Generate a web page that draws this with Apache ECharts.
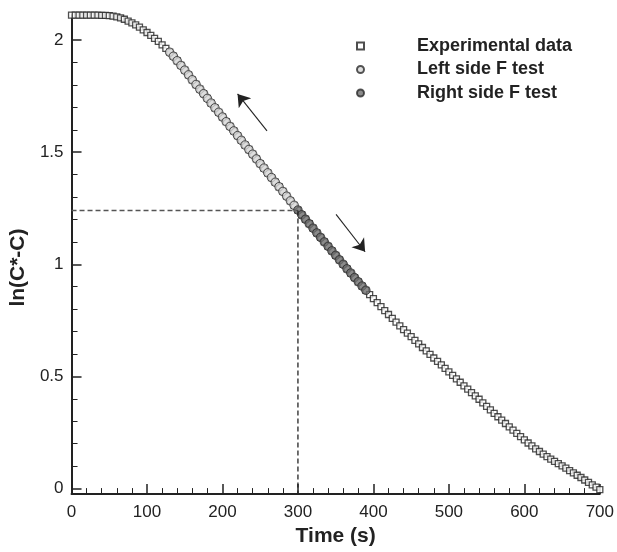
<!DOCTYPE html>
<html>
<head>
<meta charset="utf-8">
<script src="https://cdn.jsdelivr.net/npm/echarts@6/dist/echarts.min.js"></script>
<style>
  html, body { margin: 0; padding: 0; background: #fff; }
  #chart { width: 617px; height: 552px; }
</style>
</head>
<body>
<div id="chart"></div>
<script>
// sampling times (s)
const expTime = [
  0, 5, 10, 15, 20, 25, 30, 35, 40, 45, 50, 55, 60, 65, 70, 75, 80, 85, 90, 95,
  100, 105, 110, 115, 120, 125, 130, 135, 140, 145, 150, 155, 160, 165, 170, 175, 180, 185, 190, 195,
  200, 205, 210, 215, 220, 225, 230, 235, 240, 245, 250, 255, 260, 265, 270, 275, 280, 285, 290, 295,
  300, 305, 310, 315, 320, 325, 330, 335, 340, 345, 350, 355, 360, 365, 370, 375, 380, 385, 390, 395,
  400, 405, 410, 415, 420, 425, 430, 435, 440, 445, 450, 455, 460, 465, 470, 475, 480, 485, 490, 495,
  500, 505, 510, 515, 520, 525, 530, 535, 540, 545, 550, 555, 560, 565, 570, 575, 580, 585, 590, 595,
  600, 605, 610, 615, 620, 625, 630, 635, 640, 645, 650, 655, 660, 665, 670, 675, 680, 685, 690, 695,
  700
];
// ln(C*-C)
const expValue = [
  2.111, 2.111, 2.111, 2.111, 2.111, 2.111, 2.111, 2.111, 2.110, 2.110,
  2.109, 2.107, 2.104, 2.099, 2.093, 2.085, 2.077, 2.068, 2.058, 2.046,
  2.034, 2.021, 2.008, 1.994, 1.979, 1.963, 1.946, 1.928, 1.908, 1.887,
  1.866, 1.845, 1.823, 1.802, 1.781, 1.761, 1.740, 1.719, 1.698, 1.678,
  1.657, 1.636, 1.615, 1.595, 1.574, 1.553, 1.532, 1.512, 1.491, 1.470,
  1.449, 1.429, 1.408, 1.387, 1.366, 1.346, 1.325, 1.304, 1.283, 1.263,
  1.242, 1.221, 1.201, 1.181, 1.161, 1.140, 1.120, 1.100, 1.080, 1.060,
  1.040, 1.020, 1.000, 0.980, 0.961, 0.941, 0.922, 0.903, 0.884, 0.865,
  0.847, 0.829, 0.811, 0.793, 0.776, 0.759, 0.742, 0.725, 0.709, 0.693,
  0.677, 0.661, 0.645, 0.629, 0.614, 0.598, 0.582, 0.567, 0.551, 0.536,
  0.520, 0.505, 0.489, 0.474, 0.458, 0.443, 0.428, 0.413, 0.398, 0.382,
  0.366, 0.351, 0.335, 0.320, 0.305, 0.290, 0.275, 0.260, 0.246, 0.231,
  0.217, 0.203, 0.190, 0.177, 0.165, 0.153, 0.142, 0.131, 0.121, 0.111,
  0.101, 0.091, 0.080, 0.070, 0.059, 0.049, 0.038, 0.027, 0.016, 0.006,
  -0.005
];
// time windows of the two F tests
const leftRange = [130, 295];
const rightRange = [300, 390];

// split point marked by the dashed guides
const guideTime = 300;
const guideValue = 1.24;

// arrows (tail -> head)
const arrowLeft = [[259, 1.595], [220, 1.760]];
const arrowRight = [[350.5, 1.223], [389, 1.056]];

// axis ticks
const yMajor = [0, 0.5, 1, 1.5, 2];
const yMinor = [0.1, 0.2, 0.3, 0.4, 0.6, 0.7, 0.8, 0.9, 1.1, 1.2, 1.3, 1.4, 1.6, 1.7, 1.8, 1.9, 2.1];

const FONT = 'Liberation Sans, Arial, Helvetica, sans-serif';
const INK = '#222';

const pick = (range) => expTime
  .map((t, i) => [t, expValue[i]])
  .filter(p => p[0] >= range[0] && p[0] <= range[1]);

const expData = expTime.map((t, i) => [t, expValue[i]]);

const chart = echarts.init(document.getElementById('chart'));

const yBase = {
  type: 'value',
  min: -0.025,
  max: 2.112,
  position: 'left',
  offset: 0,
  splitLine: { show: false }
};

const option = {
  animation: false,
  backgroundColor: '#fff',
  grid: { left: 70, right: 16, top: 15, bottom: 53 },
  legend: {
    orient: 'vertical',
    left: 351,
    top: 32,
    itemWidth: 7,
    itemHeight: 7,
    itemGap: 5.5,
    data: ['Experimental data', 'Left side F test', 'Right side F test'],
    textStyle: {
      fontFamily: FONT, fontSize: 18, fontWeight: 'bold', color: INK,
      lineHeight: 18, padding: [0, 0, 0, 48]
    }
  },
  xAxis: {
    type: 'value',
    min: 0,
    max: 700,
    interval: 100,
    name: 'Time (s)',
    nameLocation: 'middle',
    nameGap: 30,
    nameTextStyle: { fontFamily: FONT, fontSize: 21, fontWeight: 'bold', color: INK },
    axisLine: { onZero: false, lineStyle: { color: INK, width: 2 } },
    axisTick: { inside: true, length: 10, lineStyle: { color: INK, width: 1.5 } },
    minorTick: { show: true, splitNumber: 5, length: 6, lineStyle: { color: INK, width: 1 } },
    axisLabel: { fontFamily: FONT, fontSize: 17, color: INK, margin: 10 },
    splitLine: { show: false }
  },
  yAxis: [
    Object.assign({}, yBase, {
      name: 'ln(C*-C)',
      nameLocation: 'middle',
      nameGap: 38,
      nameTextStyle: { fontFamily: FONT, fontSize: 21, fontWeight: 'bold', color: INK, padding: [0, 26, 0, 0] },
      axisLine: { show: true, lineStyle: { color: INK, width: 2 } },
      axisTick: { show: true, inside: true, length: 10, customValues: yMajor, lineStyle: { color: INK, width: 1.5 } },
      axisLabel: { fontFamily: FONT, fontSize: 17, color: INK, margin: 8, customValues: yMajor }
    }),
    Object.assign({}, yBase, {
      axisLine: { show: false },
      axisTick: { show: true, inside: true, length: 6, customValues: yMinor, lineStyle: { color: INK, width: 1 } },
      axisLabel: { show: false }
    })
  ],
  series: [
    {
      type: 'line',
      data: [[0, guideValue], [guideTime, guideValue]],
      showSymbol: false,
      silent: true,
      lineStyle: { color: '#555', width: 1.3, type: [5, 3] }
    },
    {
      type: 'line',
      data: [[guideTime, guideValue], [guideTime, -0.025]],
      showSymbol: false,
      silent: true,
      lineStyle: { color: INK, width: 1.3, type: [5, 3] }
    },
    {
      type: 'lines',
      coordinateSystem: 'cartesian2d',
      symbol: ['none', 'arrow'],
      symbolSize: [7, 12],
      silent: true,
      lineStyle: { color: INK, width: 1.1, opacity: 1 },
      data: [{ coords: arrowLeft }, { coords: arrowRight }]
    },
    {
      name: 'Experimental data',
      type: 'scatter',
      symbol: 'rect',
      symbolSize: 6,
      data: expData,
      itemStyle: { color: '#fff', borderColor: INK, borderWidth: 1.3 }
    },
    {
      name: 'Left side F test',
      type: 'scatter',
      symbol: 'circle',
      symbolSize: 8.5,
      data: pick(leftRange),
      itemStyle: { color: '#d6d6d6', borderColor: '#2a2a2a', borderWidth: 1 }
    },
    {
      name: 'Right side F test',
      type: 'scatter',
      symbol: 'circle',
      symbolSize: 8.5,
      data: pick(rightRange),
      itemStyle: { color: '#6e6e6e', borderColor: '#2a2a2a', borderWidth: 1 }
    }
  ]
};

chart.setOption(option);
</script>
</body>
</html>
